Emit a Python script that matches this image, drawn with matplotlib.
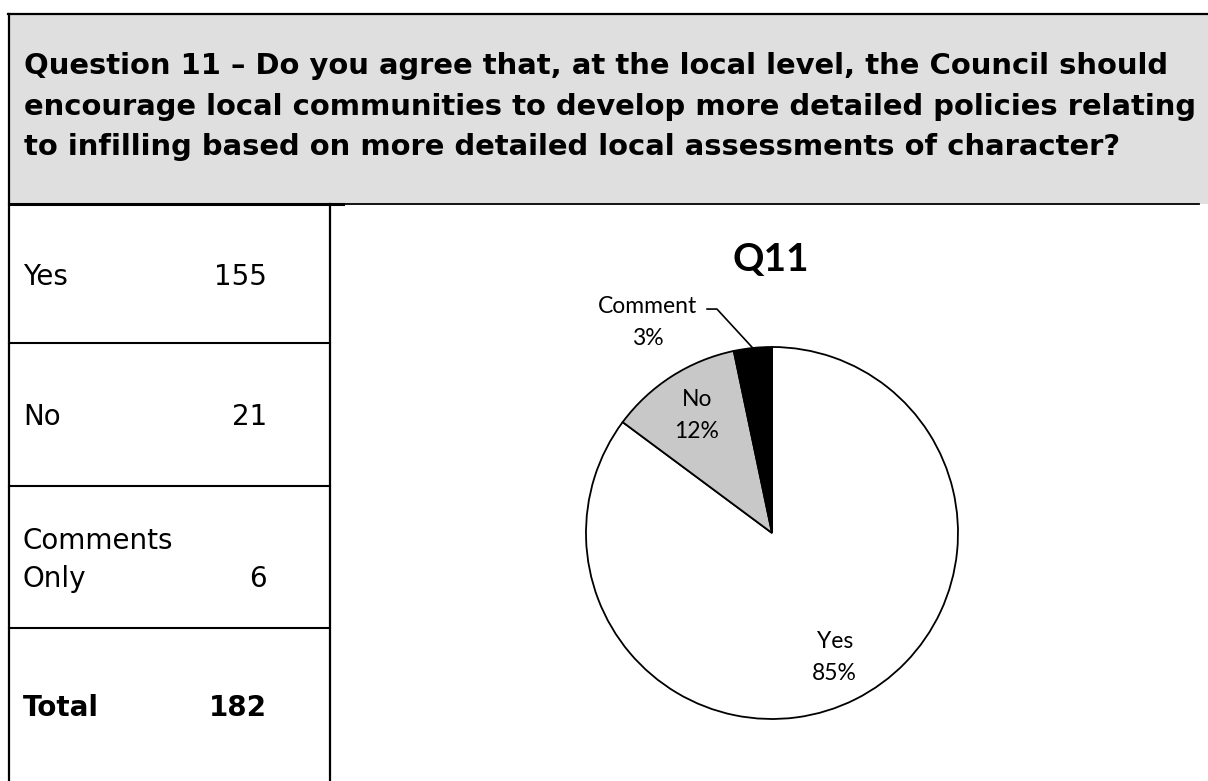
import numpy as np
import matplotlib.pyplot as plt
from matplotlib.patches import Rectangle

# survey responses for Q11
question_lines = [
    'Question 11 \u2013 Do you agree that, at the local level, the Council should',
    'encourage local communities to develop more detailed policies relating',
    'to infilling based on more detailed local assessments of character?',
]
answers = ['Yes', 'No', 'Comments\nOnly']
counts = [155, 21, 6]
total = sum(counts)
slice_names = ['Yes', 'No', 'Comment']
slice_colors = ['white', '#c8c8c8', 'black']

W, H = 1208, 781
fig = plt.figure(figsize=(W / 100, H / 100), dpi=100)

# page layer in pixel units (y down)
bg = fig.add_axes([0, 0, 1, 1])
bg.set_xlim(0, W)
bg.set_ylim(H, 0)
bg.axis('off')

bg.add_patch(Rectangle((9, 14), W - 9, 190, facecolor='#dfdfdf', edgecolor='none'))
bg.plot([8, W], [14, 14], color='black', lw=1.6)
bg.plot([9, 9], [14, H], color='black', lw=1.6)
bg.plot([9, 343], [204, 204], color='black', lw=2.2)
bg.plot([343, 1199], [204, 204], color='black', lw=1.3)
bg.plot([330, 330], [204, H], color='black', lw=1.6)
for y in [343, 486, 628]:
    bg.plot([9, 330], [y, y], color='black', lw=1.5)

for i, line in enumerate(question_lines):
    bg.text(24, [74, 115, 155][i], line, fontsize=20.9, fontweight='bold',
            family='DejaVu Sans', va='baseline', ha='left')

# left-hand count table
baselines = [285, 425, 587]
for name, n, yb in zip(answers, counts, baselines):
    bg.text(23, yb, name, fontsize=20, family='DejaVu Sans', va='baseline',
            ha='left', linespacing=1.45)
    bg.text(267, yb, str(n), fontsize=20, family='DejaVu Sans', va='baseline', ha='right')
bg.text(23, 716, 'Total', fontsize=20, fontweight='bold', family='DejaVu Sans', va='baseline')
bg.text(267, 716, str(total), fontsize=20, fontweight='bold', family='DejaVu Sans',
        va='baseline', ha='right')

bg.text(771, 259, 'Q11', fontsize=28, fontweight='bold', family='Lato', ha='center', va='center')

# pie, centre (772, 533), radius 186 px
cx, cy, r = 772, 533, 186
ax = fig.add_axes([(cx - r) / W, (H - cy - r) / H, 2 * r / W, 2 * r / H])
wedges, _ = ax.pie(counts, colors=slice_colors, startangle=90, counterclock=False,
                   wedgeprops=dict(edgecolor='black', linewidth=1.3))
ax.set_xlim(-1, 1)
ax.set_ylim(-1, 1)
ax.set_aspect('equal')
ax.axis('off')

for k, w in enumerate(wedges):
    pct = counts[k] / total * 100
    label = f'{slice_names[k]}\n{pct:.0f}%'
    mid = np.deg2rad((w.theta1 + w.theta2) / 2)
    if k < 2:
        ax.text(0.75 * np.cos(mid), 0.75 * np.sin(mid), label, ha='center', va='center',
                fontsize=16.5, family='Lato', linespacing=1.65, color='black')
    else:
        ax.text(-0.667, 1.13, label, ha='center', va='center', fontsize=16.5,
                family='Lato', linespacing=1.65, clip_on=False)
        ax.plot([-0.349, -0.296, np.cos(mid)], [1.204, 1.204, np.sin(mid)],
                color='black', lw=1.2, clip_on=False)

fig.savefig('out.png', dpi=100)
